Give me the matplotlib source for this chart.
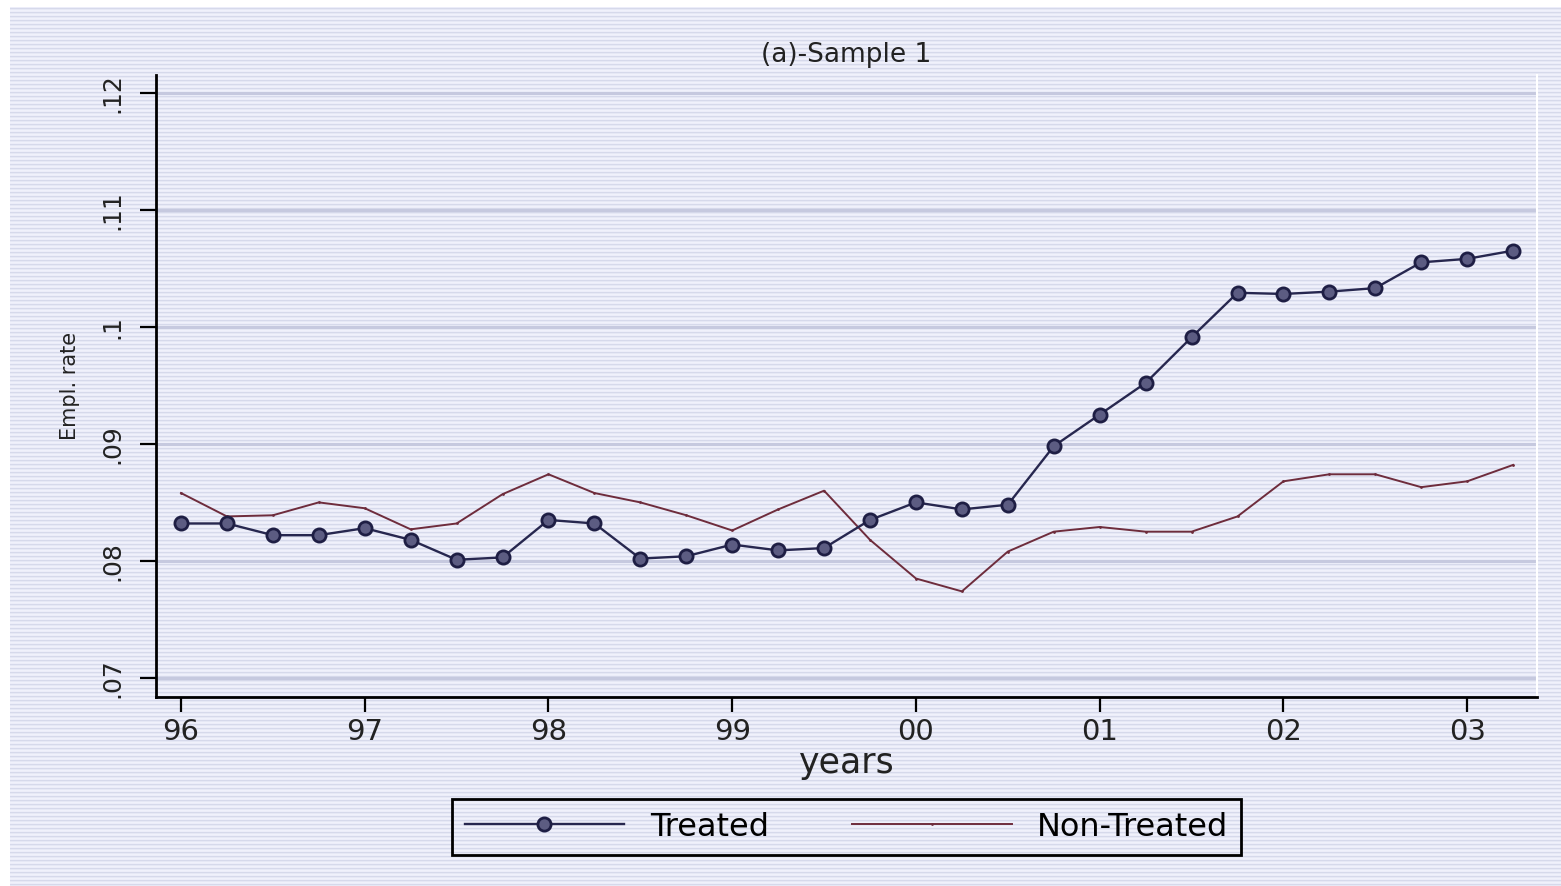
import numpy as np
import matplotlib
matplotlib.use("Agg")
import matplotlib.pyplot as plt

# quarterly time axis (96q1 .. 03q2)
quarters = [96.00, 96.25, 96.50, 96.75, 97.00, 97.25, 97.50, 97.75,
            98.00, 98.25, 98.50, 98.75, 99.00, 99.25, 99.50, 99.75,
            100.00, 100.25, 100.50, 100.75, 101.00, 101.25, 101.50, 101.75,
            102.00, 102.25, 102.50, 102.75, 103.00, 103.25]

treated = [.0832, .0832, .0822, .0822, .0828, .0818, .0801, .0803,
           .0835, .0832, .0802, .0804, .0814, .0809, .0811, .0835,
           .0850, .0844, .0848, .0898, .0925, .0952, .0991, .1029,
           .1028, .1030, .1033, .1055, .1058, .1065]

non_treated = [.0858, .0838, .0839, .0850, .0845, .0827, .0832, .0857,
               .0874, .0858, .0850, .0839, .0826, .0844, .0860, .0818,
               .0785, .0774, .0808, .0825, .0829, .0825, .0825, .0838,
               .0868, .0874, .0874, .0863, .0868, .0882]

year_ticks = [96, 97, 98, 99, 100, 101, 102, 103]
year_labels = ['96', '97', '98', '99', '00', '01', '02', '03']
rate_ticks = [.07, .08, .09, .10, .11, .12]
rate_labels = ['.07', '.08', '.09', '.1', '.11', '.12']

plt.rcParams['font.family'] = ['DejaVu Sans']

W, H = 1561, 886
fig = plt.figure(figsize=(W / 100, H / 100), dpi=100)

## striped background (Stata-like)
rows = np.arange(H)
pal = np.array([[214, 217, 235], [230, 232, 245], [240, 241, 251], [236, 237, 249]], dtype=float)
bg = np.repeat(pal[rows % 4][:, None, :], W, axis=1)
bg[:7, :, :] = 255
bg[:, :10, :] = 255
bgax = fig.add_axes([0, 0, 1, 1], zorder=-10)
bgax.imshow(bg.astype(np.uint8), aspect='auto', interpolation='nearest')
bgax.axis('off')

## main plot
ax = fig.add_axes([156 / W, 1 - 697 / H, (1537 - 156) / W, (697 - 75) / H])
ax.set_facecolor('none')

for yv in rate_ticks:
    ax.axhline(yv, color='#c6c9df', lw=2.2, zorder=0)

ax.plot(quarters, treated, '-o', color='#27274f', lw=1.7, ms=9.5,
        mfc='#5c5c82', mec='#1e1e44', mew=2, label='Treated', zorder=3)
ax.plot(quarters, non_treated, '-', color='#6e2c3c', lw=1.4,
        marker='.', ms=2, label='Non-Treated', zorder=2)

ax.set_xlim(95.864, 103.38)
ax.set_ylim(.06838, .1215)
ax.set_xticks(year_ticks)
ax.set_xticklabels(year_labels, fontsize=21, color='#222222')
ax.set_yticks(rate_ticks)
ax.set_yticklabels(rate_labels, fontsize=18, rotation=90, va='center', color='#222222')

ax.tick_params(axis='x', length=11, width=1.6, pad=4, color='black')
ax.tick_params(axis='y', length=11.5, width=1.6, pad=11, color='black')

ax.spines['top'].set_visible(False)
ax.spines['right'].set_color('white')
ax.spines['right'].set_linewidth(1.5)
ax.spines['left'].set_linewidth(2)
ax.spines['bottom'].set_linewidth(2)

ax.set_xlabel('years', fontsize=25, labelpad=0, color='#222222')
ax.set_ylabel('Empl. rate', fontsize=15, color='#222222')
ax.yaxis.set_label_coords(-0.055, 0.5)
ax.set_title('(a)-Sample 1', fontsize=19, pad=9, color='#222222')

leg = ax.legend(loc='center', bbox_to_anchor=(846.5 / W, 1 - 827 / H),
                bbox_transform=fig.transFigure, ncol=2, fontsize=23,
                handlelength=5.0, handletextpad=0.8, columnspacing=2.6,
                frameon=True, fancybox=False, borderpad=0.4, framealpha=1)
leg.get_frame().set_edgecolor('black')
leg.get_frame().set_linewidth(2)
leg.get_frame().set_facecolor('none')

fig.savefig('out.png', dpi=100)
